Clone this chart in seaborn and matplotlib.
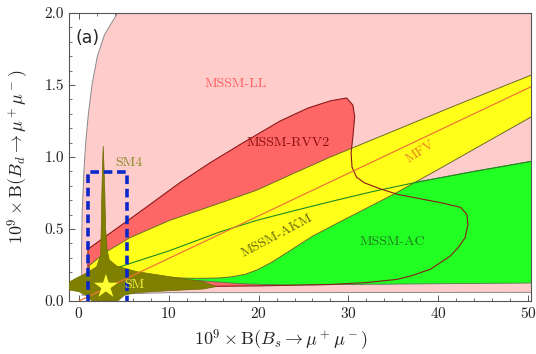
import numpy as np
import seaborn as sns
from matplotlib import pyplot as plt
from matplotlib.ticker import MultipleLocator, FormatStrFormatter

# MSSM-LL (light pink) region boundary
ll_x = [0.35, 0.28, 0.35, 0.55, 0.75, 1.05, 1.45, 2.05, 2.85, 4.3, 4.6, 51.0, 51.0, 10.0, 2.0, 0.35]
ll_y = [0.04, 0.3, 0.6, 0.9, 1.1, 1.3, 1.5, 1.7, 1.85, 2.0, 2.1, 2.1, 0.06, 0.058, 0.045, 0.04]

# MSSM-RVV2 (red) region boundary
rvv_x = [1.0, 3.0, 6.8, 11.2, 14.6, 18.3, 22.4, 25.5, 28.0, 29.8, 30.5, 30.7, 30.5, 30.3, 30.4,
         30.9, 31.8, 33.5, 35.5, 38.0, 40.5, 42.5, 43.2, 43.3, 43.0, 42.2, 41.3, 39.1, 37.0,
         35.4, 32.0, 28.0, 20.0, 12.0, 5.0, 1.0, 1.0]
rvv_y = [0.36, 0.45, 0.62, 0.82, 0.96, 1.10, 1.25, 1.34, 1.39, 1.41, 1.36, 1.28, 1.14, 1.03, 0.93,
         0.86, 0.82, 0.78, 0.74, 0.71, 0.68, 0.65, 0.60, 0.53, 0.44, 0.37, 0.31, 0.22, 0.175,
         0.15, 0.128, 0.115, 0.105, 0.10, 0.11, 0.12, 0.36]

# MSSM-AC (green) region: upper contour and lower edge
ac_top_x = [3.5, 4.2, 10.1, 15.7, 19.8, 23.5, 28.0, 32.7, 38.0, 44.0, 50.4]
ac_top_y = [0.20, 0.23, 0.35, 0.48, 0.56, 0.62, 0.69, 0.76, 0.83, 0.90, 0.97]
ac_bot_x = [50.4, 40.0, 30.0, 23.5, 18.0, 13.8, 8.0, 4.2, 3.5]
ac_bot_y = [0.125, 0.12, 0.115, 0.11, 0.12, 0.14, 0.16, 0.17, 0.20]

# MSSM-AKM / MFV (yellow) band
akm_top_x = [1.0, 1.22, 3.0, 5.68, 10.1, 15.7, 19.8, 23.5, 28.0, 35.0, 42.0, 50.4]
akm_top_y = [0.21, 0.25, 0.34, 0.44, 0.56, 0.68, 0.77, 0.875, 1.0, 1.18, 1.36, 1.57]
akm_bot_x = [50.4, 45.0, 39.9, 35.0, 30.0, 26.0, 23.5, 21.5, 19.8, 18.5, 17.0, 15.7, 13.0,
             11.2, 7.0, 3.0, 1.3, 1.0]
akm_bot_y = [1.28, 1.09, 0.91, 0.74, 0.58, 0.45, 0.35, 0.27, 0.215, 0.185, 0.168, 0.16, 0.157,
             0.16, 0.17, 0.18, 0.19, 0.21]

# MFV line
mfv_x = [0.0, 50.4]
mfv_y = [0.0, 1.49]

# SM4 (olive) allowed region
sm4_x = [-1.2, -1.0, -0.26, 0.86, 1.97, 2.42, 2.48, 2.55, 2.63, 2.7, 2.78, 2.88, 2.97, 3.15, 3.38,
         4.2, 6.4, 10.1, 13.8, 15.3, 13.8, 10.1, 6.4, 5.1, 4.6, 4.3, 1.5, 1.3, 0.8, 0.0, -1.2]
sm4_y = [0.12, 0.134, 0.16, 0.194, 0.238, 0.32, 0.5, 0.75, 0.95, 1.076, 0.95, 0.75, 0.5, 0.35, 0.285,
         0.243, 0.204, 0.169, 0.134, 0.10, 0.083, 0.072, 0.058, 0.042, 0.015, 0.0, 0.0, 0.01, 0.04, 0.065, 0.078]

# Standard Model point
sm_x = [3.0]
sm_y = [0.1]

# experimental box
box_x = [1.04, 1.04, 5.38, 5.38]
box_y = [-0.2, 0.898, 0.898, -0.2]

sns.set_theme(style='ticks')
plt.rcParams['font.family'] = ['cmr10', 'DejaVu Serif']
plt.rcParams['mathtext.fontset'] = 'cm'
plt.rcParams['axes.formatter.use_mathtext'] = True

fig, ax = plt.subplots(figsize=(5.36, 3.54), dpi=100)
fig.subplots_adjust(left=0.1287, right=0.9907, top=0.9633, bottom=0.1497)

ax.fill(ll_x, ll_y, facecolor='#FFCCCC', edgecolor='#8a8a8a', lw=0.7, zorder=1)
ax.fill(rvv_x, rvv_y, facecolor='#FF6666', edgecolor='none', zorder=2)
ax.fill(ac_top_x + ac_bot_x, ac_top_y + ac_bot_y, facecolor='#22FF22', edgecolor='#4a7a4a', lw=0.6, zorder=3)
ax.fill(akm_top_x + akm_bot_x, akm_top_y + akm_bot_y, facecolor='#FFFF1A', edgecolor='#6b6b2a', lw=0.7, zorder=4)

sns.lineplot(x=ac_top_x, y=ac_top_y, sort=False, estimator=None, color='#1E8C1E', lw=0.8, ax=ax, zorder=5)
sns.lineplot(x=rvv_x, y=rvv_y, sort=False, estimator=None, color='#8B1A1A', lw=0.8, ax=ax, zorder=5)

ax.fill(sm4_x, sm4_y, facecolor='#808000', edgecolor='#6b6b00', lw=0.5, zorder=6)
sns.lineplot(x=mfv_x, y=mfv_y, sort=False, estimator=None, color='#EE7733', lw=0.9, ax=ax, zorder=7)
sns.scatterplot(x=sm_x, y=sm_y, marker='*', s=330, color='#FFFF33', edgecolor='none', ax=ax, zorder=8)
sns.lineplot(x=box_x, y=box_y, sort=False, estimator=None, color='#0A28C8', lw=2.6,
             dashes=False, ax=ax, zorder=9).lines[-1].set_dashes((2.4, 1.3))

ax.text(17.5, 1.51, 'MSSM-LL', color='#FF6060', fontsize=10, ha='center', va='center', zorder=10)
ax.text(23.3, 1.10, 'MSSM-RVV2', color='#8B1010', fontsize=10, ha='center', va='center', zorder=10)
ax.text(38.0, 1.035, 'MFV', color='#E88420', fontsize=10, ha='center', va='center', rotation=33, zorder=10)
ax.text(22.0, 0.45, 'MSSM-AKM', color='#6B6B10', fontsize=10, ha='center', va='center', rotation=28, zorder=10)
ax.text(34.9, 0.41, 'MSSM-AC', color='#1F7F1F', fontsize=10, ha='center', va='center', zorder=10)
ax.text(5.6, 0.96, 'SM4', color='#8B8B20', fontsize=10, ha='center', va='center', zorder=10)
ax.text(6.2, 0.115, 'SM', color='#F0F040', fontsize=10, ha='center', va='center', zorder=10)
ax.text(0.015, 0.913, '(a)', transform=ax.transAxes, fontsize=12.5, family='DejaVu Sans',
        ha='left', va='center', zorder=10)

ax.set_xlim(-1.11, 50.33)
ax.set_ylim(0, 2)
ax.xaxis.set_major_locator(MultipleLocator(10))
ax.xaxis.set_minor_locator(MultipleLocator(2))
ax.yaxis.set_major_locator(MultipleLocator(0.5))
ax.yaxis.set_minor_locator(MultipleLocator(0.1))
ax.yaxis.set_major_formatter(FormatStrFormatter('%.1f'))
ax.tick_params(which='both', direction='in', top=True, right=True, colors='#555555',
               labelcolor='#222222', labelsize=11)
ax.tick_params(which='major', length=4, width=0.7)
ax.tick_params(which='minor', length=2.3, width=0.6)
for s in ax.spines.values():
    s.set_color('#555555')
    s.set_linewidth(0.8)
ax.set_xlabel(r'$10^9 \times \mathrm{B}(B_s \to \mu^+\mu^-)$', fontsize=13, color='#222222')
ax.set_ylabel(r'$10^9 \times \mathrm{B}(B_d \to \mu^+\mu^-)$', fontsize=13, color='#222222')
ax.xaxis.set_label_coords(0.459, -0.092)
ax.yaxis.set_label_coords(-0.083, 0.5)

plt.savefig('out.png', dpi=100)
